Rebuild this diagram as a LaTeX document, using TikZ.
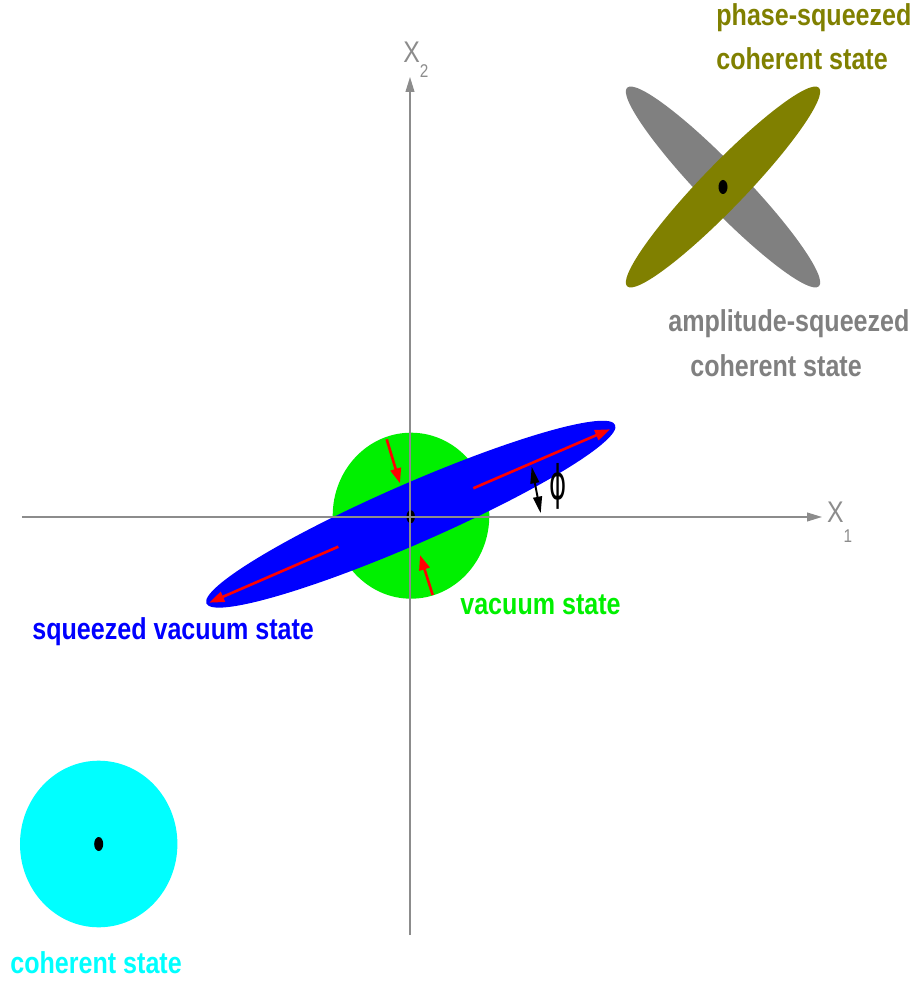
\documentclass[tikz,border=0pt]{standalone}
\usepackage{fontspec}
\usepackage{graphicx}
\usepackage{tikz}
\usetikzlibrary{arrows.meta}
\newfontfamily\narrowfont[FakeStretch=0.83]{Liberation Sans}
\newfontfamily\greekfont{DejaVu Sans}
\definecolor{qblue}{HTML}{0000FF}
\definecolor{qgreen}{HTML}{00F000}
\definecolor{qcyan}{HTML}{00FFFF}
\definecolor{qolive}{HTML}{808000}
\definecolor{qgray}{HTML}{808080}
\definecolor{qred}{HTML}{FF0000}
\definecolor{qaxis}{HTML}{8C8C8C}
\tikzset{
  axis/.style={draw=qaxis,line width=0.85pt,-{Triangle[length=8.5pt,width=5pt]}},
  lbl/.style={font=\narrowfont\bfseries\fontsize{17.2}{25.6}\selectfont,inner sep=0pt,anchor=base west},
  axlbl/.style={font=\narrowfont\fontsize{17}{20}\selectfont,text=qaxis,inner sep=0pt,anchor=base west},
  sqarr/.style={draw=qred,line width=1.5pt,-{Triangle[length=8.5pt,width=6pt]}},
  phiarr/.style={draw=black,line width=1.1pt,{Triangle[length=9.5pt,width=5pt]}-{Triangle[length=9.5pt,width=5pt]}},
  dot/.style={fill=black},
}

\begin{document}
\begin{tikzpicture}[x=0.02cm,y=0.02cm]
  \useasboundingbox (-410,-465) rectangle (507,517);
  % squeezed coherent states
  \coordinate (sq) at (313,330);
  \fill[qgray,rotate around={-46:(sq)}] (sq) ellipse [x radius=138,y radius=22];
  \fill[qolive,rotate around={46:(sq)}] (sq) ellipse [x radius=138,y radius=22];
  \fill[dot] (sq) ellipse [x radius=4.5,y radius=7];
  % coherent state
  \coordinate (coh) at (-311.3,-327);
  \fill[qcyan] (coh) ellipse [x radius=78.7,y radius=83.3];
  \fill[dot] (coh) ellipse [x radius=4.5,y radius=7];
  % vacuum and squeezed vacuum
  \coordinate (vac) at (1,1.3);
  \coordinate (sqv) at (0.8,2.8);
  \fill[qgreen] (vac) ellipse [x radius=78.3,y radius=83];
  \fill[qblue,rotate around={23.6:(sqv)}] (sqv) ellipse [x radius=223,y radius=30];
  \fill[dot] (0.7,0.3) ellipse [x radius=4.2,y radius=6.5];
  \draw[sqarr] (63.3,28.7) -- (200,87.7);
  \draw[sqarr] (-71.7,-29.7) -- (-200.7,-85.7);
  \draw[sqarr] (-23.3,77.7) -- (-10,33.7);
  \draw[sqarr] (22.7,-78) -- (10,-38);
  % angle
  \coordinate (phitop) at (121.7,50.3);
  \coordinate (phibot) at (130.7,3.7);
  \draw[phiarr] (phitop) -- (phibot);
  \node[inner sep=0pt] (phi) at (148.3,31) {\greekfont\fontsize{27}{27}\selectfont\scalebox{0.55}[1]{ϕ}};
  % axes
  \coordinate (xstart) at (-388,0);
  \coordinate (xend) at (412,0);
  \coordinate (ystart) at (0,-418);
  \coordinate (yend) at (0,440);
  \draw[axis] (xstart) -- (xend);
  \draw[axis] (ystart) -- (yend);
  \node[axlbl] (xone) at (416.7,-6) {X\raisebox{-0.4cm}{\fontsize{10.5}{12}\selectfont 1}};
  \node[axlbl] (xtwo) at (-7,454) {X\raisebox{-0.3cm}{\fontsize{10.5}{12}\selectfont 2}};
  % labels
  \node[lbl,text=qblue] (sqvaclbl) at (-378,-123) {squeezed vacuum state};
  \node[lbl,text=qgreen] (vaclbl) at (50,-98) {vacuum state};
  \node[lbl,text=qcyan] (cohlbl) at (-400,-456) {coherent state};
  \node[lbl,text=qgray,align=left] (amplbl) at (258,140.3) {amplitude-squeezed\\\hspace*{0.44cm}coherent state};
  \node[lbl,text=qolive,align=left] (phslbl) at (306,447) {phase-squeezed\\coherent state};
\end{tikzpicture}
\end{document}
